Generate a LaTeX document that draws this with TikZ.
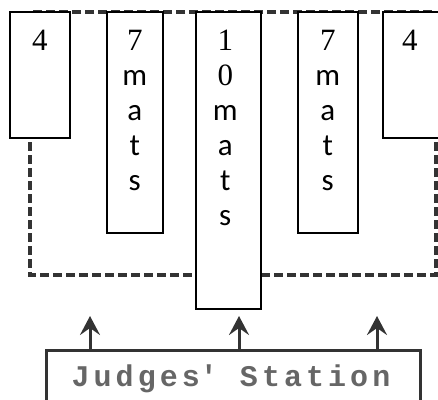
\documentclass[tikz,border=0pt]{standalone}
\usepackage{fontspec}
\usetikzlibrary{arrows.meta,positioning}
\newfontfamily\numfont{Liberation Serif}
\newfontfamily\matfont{Carlito}
\newfontfamily\stationfont{Liberation Mono}[LetterSpace=13.5]
\definecolor{mydash}{gray}{0.2}
\definecolor{myink}{gray}{0.2}
\definecolor{mytext}{gray}{0.4}

\tikzset{
  arena/.style={draw=mydash, line width=3.4pt, dash pattern=on 9pt off 4pt},
  matbox/.style={draw=black, line width=1.5pt, fill=white, anchor=north west, inner sep=0pt},
  matlabel/.style={anchor=north, inner sep=0pt, align=center, yshift=-19pt,
    font=\fontsize{31}{35}\selectfont\matfont},
  station/.style={draw=myink, line width=2.8pt, fill=white, anchor=north west, inner sep=0pt},
  judgearrow/.style={-{Stealth[length=19pt,width=20pt,inset=7pt]}, line width=3pt, draw=myink, fill=myink}
}

\begin{document}
\begin{tikzpicture}[x=1pt,y=-1pt]
    \useasboundingbox (0,0) rectangle (438,399);
    % competition area
    \draw[arena] (30,12) rectangle (436,275);

    % mats
    \node[matbox, minimum width=60, minimum height=126] (endl) at (9,11) {};
    \node[matbox, minimum width=56, minimum height=221] (sidel) at (106,11) {};
    \node[matbox, minimum width=65, minimum height=297] (centre) at (195,11) {};
    \node[matbox, minimum width=60, minimum height=221] (sider) at (297,11) {};
    \node[matbox, minimum width=60, minimum height=126] (endr) at (382,11) {};

    \node[matlabel] (endl-txt) at (endl.north) {\numfont 4};
    \node[matlabel] (sidel-txt) at (sidel.north) {{\numfont 7}\\m\\a\\t\\s};
    \node[matlabel, xshift=-3pt] (centre-txt) at (centre.north) {{\numfont 1}\\{\numfont 0}\\m\\a\\t\\s};
    \node[matlabel] (sider-txt) at (sider.north) {{\numfont 7}\\m\\a\\t\\s};
    \node[matlabel, xshift=-3pt] (endr-txt) at (endr.north) {\numfont 4};

    % judges
    \node[station, minimum width=374, minimum height=62] (judges) at (45,349) {};
    \node[anchor=base, inner sep=0pt, text=mytext, font=\fontsize{30}{34}\stationfont\bfseries]
      (judges-txt) at (231,386) {Judges\textquotesingle{} Station};

    \coordinate (aim1) at (90,316);
    \coordinate (aim2) at (239,316);
    \coordinate (aim3) at (377,316);
    \draw[judgearrow] (judges.north -| aim1) -- (aim1);
    \draw[judgearrow] (judges.north -| aim2) -- (aim2);
    \draw[judgearrow] (judges.north -| aim3) -- (aim3);
\end{tikzpicture}
\end{document}
